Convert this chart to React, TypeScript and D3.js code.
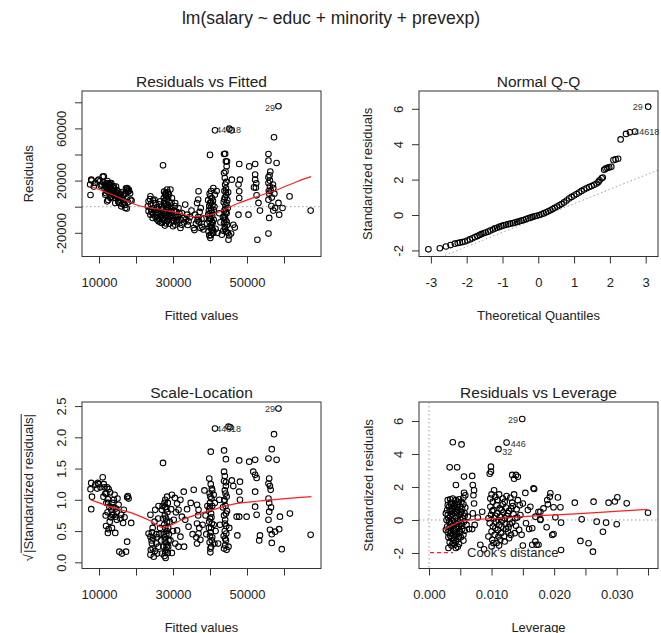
import React, { useEffect, useRef } from "react";
import * as d3 from "d3";

type Pt = [number, number];
type Lab = { text: string; x: number; y: number; anchor: string };

const FONT = "'Liberation Sans', Arial, Helvetica, sans-serif";
const mainTitle = "lm(salary ~ educ + minority + prevexp)";

// ---- tick values / labels ----
const fittedTicks = [10000, 20000, 30000, 40000, 50000, 60000];
const fittedTickLabels = ["10000", "", "30000", "", "50000", ""];
const residTicks = [-20000, 0, 20000, 40000, 60000, 80000];
const residTickLabels = ["-20000", "", "20000", "", "60000", ""];
const qqXTicks = [-3, -2, -1, 0, 1, 2, 3];
const qqXTickLabels = ["-3", "-2", "-1", "0", "1", "2", "3"];
const stdTicks = [-2, 0, 2, 4, 6];
const stdTickLabels = ["-2", "0", "2", "4", "6"];
const sqrtTicks = [0, 0.5, 1, 1.5, 2, 2.5];
const sqrtTickLabels = ["0.0", "0.5", "1.0", "1.5", "2.0", "2.5"];
const levTicks = [0, 0.005, 0.01, 0.015, 0.02, 0.025, 0.03, 0.035];
const levTickLabels = ["0.000", "", "0.010", "", "0.020", "", "0.030", ""];

// ---- Residuals vs Fitted: [fitted, residual] ----
const rvfPoints: Pt[] = [
  [7600,17000],[8000,20000],[7700,9000],[8600,15400],[7900,20700],[9000,18200],[9700,20000],[9900,20700],[11000,23000],[10500,16000],
  [10800,16900],[11300,23300],[11900,16700],[12200,18200],[12300,19700],[12600,16900],[13000,18000],[12400,13100],[13100,14300],[13500,11800],
  [11700,9200],[11900,10300],[12200,4100],[12500,5100],[13100,6700],[13400,7700],[14000,9200],[13900,14100],[14300,10300],[14400,6700],
  [14900,10500],[15200,11500],[15300,4100],[15700,7700],[16200,6700],[16000,300],[16600,5100],[17100,-1000],[17000,1300],[17600,14300],
  [17300,14100],[17700,13300],[18000,13100],[18100,12300],[18400,10300],[18500,5400],[16700,9200],[14000,15600],[13300,18200],[14400,2800],
  [15500,2800],[17500,-1300],[18800,4600],[14600,15400],[15200,3800],[12800,15000],[13800,12500],[12000,14500],[14800,12800],[16000,11000],
  [11200,18500],[10300,19500],[12500,15000],[13200,16000],[12800,13500],[13600,10000],[14200,8200],[12900,11000],[15800,9500],[16800,3000],
  [11500,14000],[12100,12000],[12700,17500],[13400,13000],[14100,11200],[13700,15200],[12400,11500],[11600,16000],[14600,9000],[15100,7000],
  [13000,9500],[15600,5500],[16400,8500],[17200,10000],[17900,11500],[16300,2000],[17800,3500],
  [27300,31700],[23900,8000],[23400,4100],[23200,300],[23400,-3500],[23900,-6100],[24800,-1000],[24500,-8600],[25700,-9900],[26100,-11200],
  [27000,-12500],[25200,2800],[26600,4100],[27500,6700],[27900,9200],[28400,13100],[29300,13100],[28800,4100],[28400,-1000],[27900,-6100],
  [28800,-9900],[29700,-6100],[30200,-11200],[31100,-9900],[31500,-7400],[32400,-13800],[32000,-16300],[30600,-13800],[32400,-4800],[33300,1600],
  [33800,-6100],[34200,-11200],[35600,-16300],[36500,2800],[36900,11800],[37400,-16300],[36000,-6100],[29700,6700],[30600,2800],[31500,-1000],
  [29300,-3500],[27000,-2300],[25800,-4800],[24000,2000],[25000,5500],[26000,-2000],[26500,-7000],[27200,-9000],[28100,-12800],[28600,11000],
  [28000,10500],[28700,7500],[29000,-13000],[30000,-8500],[31000,-4000],[30500,500],[32000,-10000],[33000,-12000],[34500,-8000],[35000,-3000],
  [34000,-14000],[28200,-3000],[28500,1500],[27600,3000],[26800,0],[25500,-6500],[24200,-4000],[29500,0],[30000,-15000],[31200,-12000],
  [27800,-14500],[27600,11500],[28100,8500],[28300,6000],[27700,4500],[28000,2000],[28600,-500],[27400,-1500],[28300,-4500],[27600,-5000],
  [28800,-6500],[28100,-8000],[27500,-10500],[28500,-11000],[29200,-8000],[29000,-5000],[29400,-2000],[29600,3000],[28900,9500],[26300,-9500],
  [25300,-8000],[24700,-5800],[24100,-1800],[25000,-2800],[25700,-500],[26200,1800],[26800,-4500],[27200,-7000],[26600,-12000],[30800,-6500],
  [31800,-5500],[30300,-3000],[29800,-10500],[30900,-11000],[32800,-8800],[33600,-9500],[23800,5800],[24600,4800],
  [36800,-8000],[37200,-4000],[36600,-10500],[37700,-9500],[36200,-13000],[37000,-11500],[35800,-17900],[38200,-17500],[36800,5500],[37500,-1000],
  [40000,39700],[40900,14300],[41300,9200],[40500,6700],[40000,2900],[40200,-1000],[40500,-4800],[40000,-8600],[40700,-12500],[40500,-16300],
  [40900,-20100],[39500,-6000],[39200,-13000],[38300,-9000],[37900,-15500],[40300,12000],[39900,10000],[40800,4500],[39800,500],[41000,-2500],
  [39700,-3000],[40600,-7000],[41000,-10000],[39800,-11000],[40300,-14500],[40800,-18000],[39600,-19000],[40200,-21800],[41500,-17000],[39500,5000],
  [41200,0],[40100,-24000],[40100,8000],[39900,-5000],[40400,-2500],[40200,-9500],[40600,-11500],[39900,-15500],[40400,-17500],[40700,-20000],
  [39800,-22000],[40300,3500],[40700,1500],
  [44100,40500],[44600,34600],[43800,40400],[44300,34800],[43800,25800],[44100,16900],[44300,14000],[43900,12000],[44400,9000],[44000,7000],
  [44700,5000],[43700,3500],[44200,1000],[44800,-1000],[43900,-3000],[44500,-5000],[44000,-7500],[44200,-10000],[43800,-12500],[44600,-14000],
  [44100,-17000],[43200,-21400],[45000,-25300],[44800,-20000],[45200,-22000],[43600,-18500],[44400,19000],[44900,11000],[43500,-8000],[42500,-5000],
  [42800,-12000],[42000,-20000],[41800,12000],[44000,22000],[44300,11000],[43900,5500],[44500,3000],[44100,-2000],[44300,-4000],[43900,-9000],
  [44500,-11500],[44000,-15500],[44400,-19000],[44200,27000],[44500,31000],
  [45900,20700],[46300,-13800],[46700,-16000],[47900,32700],[48100,20700],[47700,17000],[47900,11800],[47900,6700],[47700,-6100],[45700,-20500],
  [50400,-6100],[50600,30900],[52200,32700],[52200,24600],[52200,20700],[51900,14800],[52400,14500],[52600,8700],[53100,2900],[53500,-3000],
  [52800,-25300],[55800,40400],[55800,35300],[55800,22500],[55800,18200],[56200,15500],[56400,12500],[56000,10000],[55800,5400],[56700,7000],
  [56000,-8600],[55800,-20600],[57300,53200],[58000,33500],[57100,14300],[58500,2900],[57600,-1000],[58700,-6100],[59600,-1000],[56600,500],
  [57100,-3000],[61500,7900],[67200,-3000],[56200,20000],[57000,17000],[52500,18000],[55900,12000],[56100,24000],[56300,27000],[57400,10000],
  [41350,58500],[45230,59800],[45860,58500],[58500,77000],
];
const rvfSmooth: Pt[] = [
  [8030,15300],[13860,8970],[20190,1300],[27380,-2530],[31890,-5060],[35490,-7660],[40000,-6360],
  [43600,-2530],[47650,2600],[52620,7660],[58030,12800],[63430,19160],[67300,23000],
];
const rvfLabels: Lab[] = [
  { text: "29", x: 57570, y: 76000, anchor: "end" },
  { text: "446", x: 41700, y: 58800, anchor: "start" },
  { text: "18", x: 45700, y: 58800, anchor: "start" },
];

// ---- Normal Q-Q: [theoretical quantile, standardized residual] ----
const qqPoints: Pt[] = [
  [-3.07,-1.94],[-2.75,-1.88],[-2.58,-1.78],[-2.45,-1.70],[-2.33,-1.62],[-2.25,-1.58],[-2.19,-1.56],[-2.12,-1.53],[-2.05,-1.50],[-1.98,-1.44],
  [-1.91,-1.38],[-1.84,-1.32],[-1.77,-1.25],[-1.70,-1.19],[-1.64,-1.13],[-1.59,-1.08],[-1.53,-1.03],[-1.47,-0.99],[-1.40,-0.94],[-1.34,-0.88],
  [-1.27,-0.82],[-1.21,-0.76],[-1.15,-0.72],[-1.09,-0.67],[-1.03,-0.63],[-0.97,-0.59],[-0.90,-0.55],[-0.84,-0.52],[-0.78,-0.49],[-0.71,-0.46],
  [-0.65,-0.43],[-0.59,-0.39],[-0.53,-0.36],[-0.47,-0.32],[-0.41,-0.28],[-0.34,-0.23],[-0.28,-0.19],[-0.22,-0.15],[-0.16,-0.11],[-0.10,-0.07],
  [-0.04,-0.04],[0.03,0.00],[0.09,0.04],[0.15,0.09],[0.22,0.15],[0.28,0.21],[0.34,0.27],[0.40,0.34],[0.46,0.41],[0.53,0.48],
  [0.59,0.55],[0.65,0.62],[0.72,0.71],[0.79,0.82],[0.86,0.93],[0.93,1.02],[1.00,1.10],[1.07,1.18],[1.14,1.27],[1.21,1.36],
  [1.28,1.44],[1.35,1.51],[1.42,1.58],[1.49,1.64],[1.56,1.71],[1.63,1.78],[1.68,1.86],[1.71,1.96],[1.77,2.07],[1.80,2.12],
  [1.84,2.55],[1.88,2.62],[1.93,2.66],[1.98,2.69],[2.04,2.72],[2.10,3.10],[2.16,3.14],[2.23,3.18],[2.30,4.27],[2.45,4.58],
  [2.56,4.67],[2.70,4.71],[3.07,6.12],
];
const qqLineIntercept = -0.17;
const qqLineSlope = 0.811;
const qqLabels: Lab[] = [
  { text: "29", x: 2.92, y: 6.12, anchor: "end" },
  { text: "446", x: 2.68, y: 4.68, anchor: "start" },
  { text: "18", x: 3.10, y: 4.68, anchor: "start" },
];

// ---- Scale-Location: [fitted, sqrt(|standardized residual|)] ----
const slPoints: Pt[] = [
  [7900,1.27],[7700,1.17],[9000,1.24],[9700,1.27],[9900,1.25],[8100,1.05],[7900,0.85],[9500,1.18],[11000,1.36],[11500,1.20],
  [12200,1.20],[12600,1.17],[11700,1.10],[12400,1.01],[12800,0.89],[13500,0.76],[14400,0.73],[14000,1.00],[15300,0.92],[16000,0.76],
  [16700,0.84],[11900,0.58],[12600,0.53],[12400,0.47],[14400,0.47],[16500,0.63],[18700,0.63],[17600,1.04],[18000,1.02],[17800,1.06],
  [15500,0.17],[16200,0.14],[17300,0.17],[17600,0.33],[14800,0.80],[13300,0.84],[13900,0.76],[13000,1.12],[13600,0.95],[12000,0.95],
  [14600,0.86],[15800,0.70],[11300,1.25],[10400,1.20],[13200,0.72],[12900,0.65],[14200,1.08],[15000,1.02],
  [12000,1.10],[12500,0.95],[11200,1.05],[13800,0.88],[12300,0.80],[13500,0.55],[14800,0.68],[16900,0.72],[11800,0.75],
  [27300,1.59],[23900,0.76],[23400,0.46],[23900,0.41],[24300,0.30],[24500,0.22],[23900,0.12],[24800,0.09],[25700,0.14],[26100,0.25],
  [27000,0.14],[25200,0.84],[26100,0.90],[27000,0.84],[27900,1.00],[28400,1.05],[27900,0.89],[27700,0.10],[28000,0.20],[28200,0.30],
  [27800,0.40],[28300,0.50],[27600,0.60],[28100,0.70],[28500,0.80],[27700,0.95],[28700,0.25],[28900,0.45],[29100,0.65],[28000,0.07],
  [29700,1.08],[30500,1.03],[31100,0.94],[32000,1.00],[32900,1.13],[31500,0.84],[32400,0.73],[30200,0.68],[31100,0.51],[32000,0.41],
  [31500,0.25],[30600,0.30],[29700,0.15],[33300,0.68],[34200,0.57],[35600,1.16],[36500,0.92],[36900,0.84],[36500,0.62],[36900,0.46],
  [36500,0.30],[37400,0.36],[24500,0.55],[25000,0.65],[25500,0.45],[26500,0.55],[26000,0.70],[24200,0.35],[29500,0.85],[30000,0.50],
  [29300,0.35],[30800,0.80],[33800,0.85],[34800,0.95],[35300,0.45],[33000,0.25],[26800,0.35],[25500,0.30],
  [27900,0.15],[28300,0.25],[27800,0.35],[28200,0.45],[27900,0.55],[28400,0.65],[27800,0.75],[28200,0.85],[28600,0.95],[28700,0.55],
  [28800,0.35],[28600,0.15],[27400,0.25],[27500,0.45],[27300,0.70],[27200,0.90],[24000,0.20],[24600,0.38],[25100,0.18],[24300,0.48],
  [25700,0.40],[26300,0.45],[36800,0.75],[37100,0.55],[36300,0.40],
  [58500,2.46],[41350,2.14],[45000,2.17],[45500,2.16],[40200,1.77],[43800,1.79],[44300,1.65],[47900,1.63],[50600,1.61],[52200,1.64],
  [55800,1.66],[56700,1.81],[57300,2.05],[58000,1.64],[51700,1.45],[52200,1.40],[52600,1.35],[56000,1.34],[55800,1.26],[56200,1.22],
  [56400,1.16],[43800,1.45],[45900,1.31],[46300,1.22],[48100,1.29],[47900,1.13],[48100,1.00],[47200,0.73],[47900,0.73],[47400,0.43],
  [49900,0.73],[52200,1.13],[52200,0.89],[52600,0.76],[53500,0.43],[53300,0.35],[55800,1.02],[56000,0.81],[55800,0.68],[56200,0.52],
  [56700,0.45],[57600,0.49],[58700,0.53],[58900,0.73],[56700,0.31],[59400,0.21],[61600,0.78],[67200,0.44],[56000,0.95],[56500,0.88],
  [39800,1.34],[40200,1.25],[40500,1.18],[39900,1.10],[40400,1.02],[40000,0.95],[40600,0.90],[39800,0.85],[40300,0.78],[40000,0.70],
  [40500,0.62],[39700,0.55],[40200,0.48],[40600,0.40],[39900,0.32],[40300,0.25],[40100,0.16],[41000,1.08],[41300,0.95],[41000,0.60],
  [41200,0.30],[39300,0.90],[38800,0.75],[38500,1.15],[38000,0.60],[39000,0.45],[41500,0.50],[40100,1.05],[40000,0.88],[40400,0.72],
  [39800,0.65],[40300,0.55],[40000,0.42],[40500,0.35],[40100,0.22],[40600,1.15],
  [44000,1.38],[43800,1.30],[44300,1.22],[44000,1.15],[44500,1.05],[43900,0.98],[44200,0.90],[44600,0.82],[43800,0.75],[44100,0.68],
  [44400,0.58],[44000,0.50],[43700,0.42],[44300,0.35],[44100,0.27],[44500,0.20],[43500,0.88],[42700,0.60],[42500,1.00],[45200,0.55],
  [45000,0.25],[42200,0.30],[44200,1.10],[43900,1.00],[44300,0.78],[44000,0.62],[44400,0.46],[44100,0.38],[43800,0.22],[44300,1.28],
];
const slSmooth: Pt[] = [
  [7800,1.00],[13000,0.89],[19300,0.78],[24000,0.66],[27100,0.56],[28300,0.57],[32400,0.68],
  [37800,0.79],[41800,0.86],[46300,0.93],[55300,0.99],[67400,1.05],
];
const slLabels: Lab[] = [
  { text: "29", x: 57570, y: 2.45, anchor: "end" },
  { text: "446", x: 41700, y: 2.14, anchor: "start" },
  { text: "18", x: 45700, y: 2.14, anchor: "start" },
];

// ---- Residuals vs Leverage: [leverage, standardized residual] ----
const rvlPoints: Pt[] = [
  [0.0038,4.71],[0.0052,4.58],[0.0033,3.19],[0.0045,3.19],[0.0056,2.63],[0.0043,2.12],[0.0056,1.65],[0.0058,1.50],[0.0055,1.35],
  [0.0030,1.20],[0.0034,1.25],[0.0038,1.30],[0.0043,1.20],[0.0048,1.25],[0.0052,1.10],[0.0030,0.90],[0.0035,0.95],[0.0040,0.85],[0.0045,0.90],
  [0.0050,0.80],[0.0055,0.95],[0.0029,0.60],[0.0033,0.55],[0.0037,0.65],[0.0042,0.50],[0.0047,0.60],[0.0052,0.50],[0.0057,0.40],[0.0030,0.30],
  [0.0034,0.20],[0.0039,0.25],[0.0044,0.15],[0.0049,0.30],[0.0054,0.10],[0.0028,0.00],[0.0032,-0.10],[0.0036,-0.05],[0.0041,-0.15],[0.0046,-0.05],
  [0.0051,-0.20],[0.0056,-0.10],[0.0029,-0.40],[0.0033,-0.45],[0.0038,-0.35],[0.0043,-0.50],[0.0048,-0.40],[0.0053,-0.55],[0.0030,-0.75],[0.0035,-0.80],
  [0.0040,-0.70],[0.0045,-0.85],[0.0050,-0.75],[0.0055,-0.90],[0.0031,-1.05],[0.0036,-1.10],[0.0041,-1.00],[0.0046,-1.15],[0.0051,-1.05],[0.0033,-1.35],
  [0.0038,-1.40],[0.0043,-1.30],[0.0048,-1.45],[0.0036,-1.55],[0.0031,-1.70],[0.0046,-1.62],[0.0040,-1.20],[0.0058,0.75],[0.0060,-0.30],[0.0062,0.20],
  [0.0064,-0.55],[0.0027,0.40],[0.0027,-0.60],[0.0042,0.70],[0.0047,1.00],[0.0035,1.05],[0.0039,0.45],[0.0053,0.65],[0.0044,-0.25],[0.0049,-0.65],
  [0.0034,-0.95],[0.0055,-1.25],[0.0057,0.25],[0.0032,0.80],[0.0037,0.35],[0.0041,0.95],[0.0045,0.45],[0.0050,0.05],[0.0035,-0.25],[0.0039,-0.60],
  [0.0044,-0.75],[0.0048,-1.00],[0.0033,-0.65],[0.0053,-0.35],[0.0041,-1.50],[0.0031,0.10],[0.0036,0.55],[0.0046,1.10],[0.0051,0.45],[0.0057,-0.65],
  [0.0043,-1.70],[0.0039,-0.90],
  [0.0069,2.67],[0.0070,2.12],[0.0072,1.80],[0.0071,1.50],[0.0072,1.00],[0.0070,0.40],[0.0073,-0.30],[0.0069,-0.55],[0.0085,0.50],[0.0088,-1.78],
  [0.0078,0.15],[0.0082,-1.50],
  [0.0099,3.23],[0.0099,2.93],[0.0097,2.80],[0.0124,4.69],[0.0111,4.29],[0.0139,2.73],[0.0133,2.73],[0.0142,2.62],[0.0136,2.50],
  [0.0100,1.55],[0.0104,1.80],[0.0098,1.30],[0.0102,1.10],[0.0106,1.40],[0.0112,1.55],[0.0118,1.30],[0.0124,1.45],[0.0130,1.35],[0.0136,1.55],
  [0.0142,1.20],[0.0098,0.80],[0.0103,0.60],[0.0108,0.90],[0.0113,0.70],[0.0118,0.95],[0.0123,0.75],[0.0128,0.55],[0.0134,0.85],[0.0140,0.65],
  [0.0145,0.90],[0.0099,0.30],[0.0104,0.10],[0.0109,0.40],[0.0114,0.20],[0.0119,0.45],[0.0124,0.25],[0.0129,0.05],[0.0135,0.35],[0.0141,0.15],
  [0.0097,-0.20],[0.0102,-0.40],[0.0107,-0.10],[0.0112,-0.30],[0.0117,-0.05],[0.0122,-0.25],[0.0127,-0.45],[0.0133,-0.15],[0.0139,-0.35],[0.0144,-0.60],
  [0.0100,-0.70],[0.0105,-0.90],[0.0110,-0.60],[0.0115,-0.80],[0.0120,-1.00],[0.0126,-0.70],[0.0131,-0.90],[0.0137,-0.80],[0.0101,-1.20],[0.0108,-1.40],
  [0.0114,-1.20],[0.0121,-1.30],[0.0128,-1.10],[0.0100,-1.60],[0.0112,-1.55],[0.0095,-1.00],[0.0095,0.10],
  [0.0101,0.55],[0.0106,0.25],[0.0111,0.00],[0.0116,0.60],[0.0121,0.10],[0.0126,0.40],[0.0131,0.70],[0.0106,-0.50],[0.0111,-1.00],[0.0116,-0.40],
  [0.0123,-0.55],[0.0129,-0.25],[0.0103,-1.40],[0.0109,1.20],[0.0121,1.10],[0.0133,1.05],[0.0138,0.10],
  [0.0149,6.12],[0.0154,1.64],[0.0168,1.88],[0.0167,1.92],[0.0150,1.00],[0.0158,0.60],[0.0146,0.30],[0.0155,-0.20],[0.0160,-0.55],[0.0150,-1.55],
  [0.0165,-1.50],[0.0170,-1.30],[0.0172,-1.50],[0.0175,0.50],[0.0162,0.80],[0.0148,-0.90],[0.0165,-0.50],[0.0170,0.20],[0.0178,0.05],[0.0194,1.62],
  [0.0193,1.41],[0.0189,1.21],[0.0206,1.37],[0.0199,0.77],[0.0210,0.77],[0.0178,0.50],[0.0178,0.00],[0.0202,0.16],[0.0211,-0.16],[0.0188,-0.44],
  [0.0197,-0.91],[0.0199,-0.85],[0.0211,-1.82],[0.0175,-1.50],[0.0190,0.95],[0.0183,0.70],
  [0.0233,1.05],[0.0244,0.04],[0.0263,1.11],[0.0268,-0.10],[0.0283,-0.16],[0.0278,-0.71],[0.0287,1.05],[0.0297,1.12],[0.0301,1.37],[0.0300,-0.26],
  [0.0316,1.01],[0.0350,0.44],[0.0242,-1.27],[0.0255,-1.41],[0.0262,-1.92],
];
const rvlSmooth: Pt[] = [
  [0.0024,-0.57],[0.0037,-0.32],[0.0048,-0.12],[0.0064,-0.01],[0.0090,0.06],[0.0117,0.11],
  [0.0145,0.19],[0.0175,0.26],[0.0226,0.36],[0.0279,0.48],[0.0349,0.64],
];
const rvlLabels: Lab[] = [
  { text: "29", x: 0.01422, y: 6.08, anchor: "end" },
  { text: "446", x: 0.01306, y: 4.64, anchor: "start" },
  { text: "32", x: 0.01171, y: 4.12, anchor: "start" },
];

type Panel = {
  id: string;
  title: string;
  xLabel: string;
  yLabel: string;
  box: [number, number, number, number]; // left, top, right, bottom
  xDomain: [number, number];
  yDomain: [number, number];
  xTicks: number[];
  xTickLabels: string[];
  yTicks: number[];
  yTickLabels: string[];
  points: Pt[];
  smooth: Pt[];
  labels: Lab[];
  yTitleOffset: number;
};

const panels: Panel[] = [
  {
    id: "rvf", title: "Residuals vs Fitted", xLabel: "Fitted values", yLabel: "Residuals",
    box: [82, 91, 321, 256.5], xDomain: [5405, 70000], yDomain: [-38160, 88660],
    xTicks: fittedTicks, xTickLabels: fittedTickLabels, yTicks: residTicks, yTickLabels: residTickLabels,
    points: rvfPoints, smooth: rvfSmooth, labels: rvfLabels, yTitleOffset: 54,
  },
  {
    id: "qq", title: "Normal Q-Q", xLabel: "Theoretical Quantiles", yLabel: "Standardized residuals",
    box: [419, 91, 658, 256.5], xDomain: [-3.332, 3.344], yDomain: [-2.345, 7.006],
    xTicks: qqXTicks, xTickLabels: qqXTickLabels, yTicks: stdTicks, yTickLabels: stdTickLabels,
    points: qqPoints, smooth: [], labels: qqLabels, yTitleOffset: 52,
  },
  {
    id: "sl", title: "Scale-Location", xLabel: "Fitted values", yLabel: "",
    box: [82, 402, 321, 568.5], xDomain: [5405, 70000], yDomain: [-0.099, 2.565],
    xTicks: fittedTicks, xTickLabels: fittedTickLabels, yTicks: sqrtTicks, yTickLabels: sqrtTickLabels,
    points: slPoints, smooth: slSmooth, labels: slLabels, yTitleOffset: 54,
  },
  {
    id: "rvl", title: "Residuals vs Leverage", xLabel: "Leverage", yLabel: "Standardized residuals",
    box: [419, 402, 658, 568.5], xDomain: [-0.0016, 0.0366], yDomain: [-2.94, 7.15],
    xTicks: levTicks, xTickLabels: levTickLabels, yTicks: stdTicks, yTickLabels: stdTickLabels,
    points: rvlPoints, smooth: rvlSmooth, labels: rvlLabels, yTitleOffset: 51,
  },
];

const TEXT = "#222";

function drawPanel(svg: d3.Selection<SVGSVGElement, unknown, null, undefined>, p: Panel) {
  const [left, top, right, bottom] = p.box;
  const x = d3.scaleLinear().domain(p.xDomain).range([left, right]);
  const y = d3.scaleLinear().domain(p.yDomain).range([bottom, top]);
  const g = svg.append("g");

  g.append("clipPath").attr("id", "clip-" + p.id)
    .append("rect").attr("x", left).attr("y", top).attr("width", right - left).attr("height", bottom - top);
  const inner = g.append("g").attr("clip-path", `url(#clip-${p.id})`);

  const dotted = (sel: any) => sel.attr("stroke", "#a0a0a0").attr("stroke-width", 1).attr("stroke-dasharray", "1.5,2.5");

  if (p.id === "rvf" || p.id === "rvl") {
    inner.append("line").attr("x1", left).attr("x2", right).attr("y1", y(0)).attr("y2", y(0)).call(dotted);
  }
  if (p.id === "rvl") {
    inner.append("line").attr("x1", x(0)).attr("x2", x(0)).attr("y1", top).attr("y2", bottom).call(dotted);
  }
  if (p.id === "qq") {
    const [x0, x1] = p.xDomain;
    inner.append("line")
      .attr("x1", x(x0)).attr("y1", y(qqLineIntercept + qqLineSlope * x0))
      .attr("x2", x(x1)).attr("y2", y(qqLineIntercept + qqLineSlope * x1))
      .call(dotted);
  }

  inner.selectAll("circle").data(p.points).enter().append("circle")
    .attr("cx", d => x(d[0])).attr("cy", d => y(d[1])).attr("r", 2.8)
    .attr("fill", "none").attr("stroke", "#000").attr("stroke-width", 1.05);

  if (p.smooth.length) {
    inner.append("path").datum(p.smooth)
      .attr("d", d3.line<Pt>().x(d => x(d[0])).y(d => y(d[1])).curve(d3.curveMonotoneX))
      .attr("fill", "none").attr("stroke", "#ff2020").attr("stroke-width", 1.2);
  }

  g.selectAll("text.idlab").data(p.labels).enter().append("text")
    .attr("class", "idlab")
    .attr("x", d => x(d.x)).attr("y", d => y(d.y)).attr("dy", "0.35em")
    .attr("text-anchor", d => d.anchor)
    .attr("font-size", 9).attr("font-family", FONT).attr("fill", "#333")
    .text(d => d.text);

  // axes
  const xAxis = d3.axisBottom(x).tickValues(p.xTicks).tickSize(7).tickSizeOuter(0).tickPadding(14)
    .tickFormat((d, i) => p.xTickLabels[i]);
  g.append("g").attr("transform", `translate(0,${bottom})`).call(xAxis)
    .call(s => s.select(".domain").remove())
    .call(s => s.selectAll("line").attr("stroke", "#333"))
    .call(s => s.selectAll("text").attr("font-size", 13).attr("font-family", FONT).attr("fill", TEXT));

  const yAxis = d3.axisLeft(y).tickValues(p.yTicks).tickSize(7).tickSizeOuter(0)
    .tickFormat((d, i) => p.yTickLabels[i]);
  g.append("g").attr("transform", `translate(${left},0)`).call(yAxis)
    .call(s => s.select(".domain").remove())
    .call(s => s.selectAll("line").attr("stroke", "#333"))
    .call(s => s.selectAll("text")
      .attr("x", 0).attr("dy", null)
      .attr("transform", "translate(-16.5,0) rotate(-90)")
      .attr("text-anchor", "middle")
      .attr("font-size", 13).attr("font-family", FONT).attr("fill", TEXT));

  g.append("rect").attr("x", left).attr("y", top).attr("width", right - left).attr("height", bottom - top)
    .attr("fill", "none").attr("stroke", "#333").attr("stroke-width", 1);

  g.append("text").attr("x", (left + right) / 2).attr("y", top - 4.5)
    .attr("text-anchor", "middle").attr("font-size", 15.5).attr("font-family", FONT).attr("fill", TEXT)
    .text(p.title);

  g.append("text").attr("x", (left + right) / 2).attr("y", bottom + 63)
    .attr("text-anchor", "middle").attr("font-size", 13).attr("font-family", FONT).attr("fill", TEXT)
    .text(p.xLabel);

  const cy = (top + bottom) / 2;
  const tx = left - p.yTitleOffset + 4.7;
  if (p.yLabel) {
    g.append("text").attr("transform", `translate(${tx},${cy}) rotate(-90)`)
      .attr("text-anchor", "middle").attr("font-size", 13).attr("font-family", FONT).attr("fill", TEXT)
      .text(p.yLabel);
  } else {
    // sqrt(|Standardized residuals|)
    const start = 553;
    const main = g.append("text").attr("transform", `translate(${tx},${start}) rotate(-90)`)
      .attr("text-anchor", "start").attr("font-size", 13).attr("font-family", FONT).attr("fill", TEXT)
      .text("|Standardized residuals|");
    const len = (main.node() as SVGTextElement).getComputedTextLength();
    g.append("text").attr("transform", `translate(${tx},${start + 1}) rotate(-90)`)
      .attr("text-anchor", "end").attr("font-size", 13).attr("font-family", FONT).attr("fill", TEXT)
      .text("√");
    g.append("line").attr("x1", tx - 11.5).attr("x2", tx - 11.5).attr("y1", start).attr("y2", start - len)
      .attr("stroke", TEXT).attr("stroke-width", 1);
  }

  if (p.id === "rvl") {
    const ly = y(-1.98);
    g.append("line").attr("x1", left + 11).attr("x2", left + 34).attr("y1", ly).attr("y2", ly)
      .attr("stroke", "#ff2020").attr("stroke-width", 1.2).attr("stroke-dasharray", "4,3");
    g.append("text").attr("x", left + 48).attr("y", ly).attr("dy", "0.35em")
      .attr("font-size", 13).attr("font-family", FONT).attr("fill", TEXT)
      .text("Cook's distance");
  }
}

export default function App() {
  const ref = useRef<SVGSVGElement>(null);

  useEffect(() => {
    const svg = d3.select(ref.current!);
    svg.selectAll("*").remove();
    svg.append("rect").attr("width", 661).attr("height", 633).attr("fill", "#fff");
    svg.append("text").attr("x", 331).attr("y", 24).attr("text-anchor", "middle")
      .attr("font-size", 17.5).attr("font-family", FONT).attr("fill", TEXT)
      .text(mainTitle);
    panels.forEach(p => drawPanel(svg, p));
  }, []);

  return (
    <svg ref={ref} width={661} height={633}
      style={{ position: "absolute", left: 0, top: 0, display: "block" }} />
  );
}
